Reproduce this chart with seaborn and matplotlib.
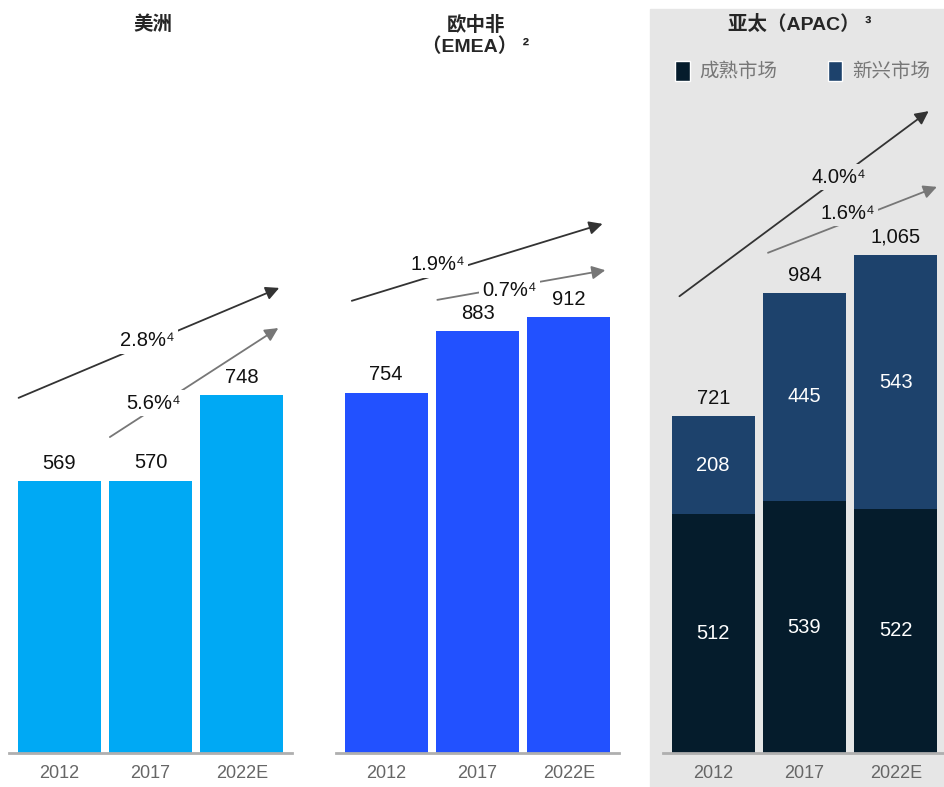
import matplotlib
matplotlib.use('Agg')
import matplotlib.pyplot as plt
import seaborn as sns
import pandas as pd
from matplotlib.patches import Patch, Rectangle

sns.set_style('white')
plt.rcParams['font.family'] = ['Liberation Sans', 'Noto Sans CJK SC', 'DejaVu Sans']

# data
years = ['2012', '2017', '2022E']
americas = [569, 570, 748]
emea = [754, 883, 912]
apac_mature = [512, 539, 522]
apac_emerging = [208, 445, 543]
apac_total = [721, 984, 1065]

americas_cagr = ['2.8%⁴', '5.6%⁴']
emea_cagr = ['1.9%⁴', '0.7%⁴']
apac_cagr = ['4.0%⁴', '1.6%⁴']

c_am = '#00A9F4'
c_emea = '#2251FF'
c_mature = '#051C2C'
c_emerg = '#1D426C'
bg_gray = '#E6E6E6'

W, H = 945, 787
fig = plt.figure(figsize=(W / 100, H / 100), dpi=100)

# gray panel behind APAC
fig.patches.append(Rectangle((650 / W, 0), 1 - 650 / W, 1 - 9 / H,
                             transform=fig.transFigure, color=bg_gray, zorder=-1))

VAL_FS = 14.5


def make_ax(left_px, width_px, scale):
    bottom = (H - 753) / H
    height = (753 - 60) / H
    ax = fig.add_axes([left_px / W, bottom, width_px / W, height])
    ax.set_facecolor('none')
    ax.set_zorder(1)
    return ax


def style_ax(ax, scale):
    ax.set_xlim(-0.55, 2.55)
    ax.set_ylim(0, 693 / scale)
    for s in ['top', 'right', 'left']:
        ax.spines[s].set_visible(False)
    ax.spines['bottom'].set_color('#AFAFAF')
    ax.spines['bottom'].set_linewidth(2)
    ax.set_yticks([])
    ax.tick_params(axis='x', length=0, labelsize=13, labelcolor='#666666', pad=9)
    ax.set_xlabel('')
    ax.set_ylabel('')


def arrow(ax, start, end, color, label, lpos, bg):
    ax.annotate('', xy=end, xytext=start,
                arrowprops=dict(arrowstyle='-|>', color=color, lw=1.3,
                                mutation_scale=20, shrinkA=0, shrinkB=0))
    ax.text(lpos[0], lpos[1], label, ha='center', va='center', fontsize=VAL_FS,
            color='#111111',
            bbox=dict(facecolor=bg, edgecolor='none', pad=2.5))


bar_kw = dict(width=0.912, saturation=1, linewidth=0, edgecolor='none')

# Americas
ax1 = make_ax(9, 283, 0.478)
sns.barplot(x=years, y=americas, color=c_am, ax=ax1, **bar_kw)
style_ax(ax1, 0.478)
ax1.bar_label(ax1.containers[0], padding=6, fontsize=VAL_FS, color='#111111')
arrow(ax1, (-0.445, 743), (2.41, 973), '#333333', americas_cagr[0], (0.96, 862), 'white')
arrow(ax1, (0.555, 661), (2.40, 889), '#777777', americas_cagr[1], (1.03, 732), 'white')

# EMEA
ax2 = make_ax(336, 283, 0.478)
sns.barplot(x=years, y=emea, color=c_emea, ax=ax2, **bar_kw)
style_ax(ax2, 0.478)
ax2.bar_label(ax2.containers[0], padding=6, fontsize=VAL_FS, color='#111111')
arrow(ax2, (-0.377, 946), (2.37, 1107), '#333333', emea_cagr[0], (0.56, 1021), 'white')
arrow(ax2, (0.56, 948), (2.40, 1010), '#777777', emea_cagr[1], (1.35, 967), 'white')

# APAC stacked
ax3 = make_ax(663, 283, 0.4675)
sns.barplot(x=years, y=apac_total, color=c_emerg, ax=ax3, **bar_kw)
sns.barplot(x=years, y=apac_mature, color=c_mature, ax=ax3, **bar_kw)
style_ax(ax3, 0.4675)
ax3.bar_label(ax3.containers[0], labels=[f'{v:,}' for v in apac_total],
              padding=6, fontsize=VAL_FS, color='#111111')
for i in range(len(years)):
    ax3.text(i, apac_mature[i] / 2, str(apac_mature[i]), ha='center', va='center',
             color='white', fontsize=VAL_FS)
    ax3.text(i, apac_mature[i] + apac_emerging[i] / 2, str(apac_emerging[i]),
             ha='center', va='center', color='white', fontsize=VAL_FS)
arrow(ax3, (-0.37, 977), (2.36, 1373), '#333333', apac_cagr[0], (1.38, 1232), bg_gray)
arrow(ax3, (0.60, 1070), (2.45, 1211), '#777777', apac_cagr[1], (1.47, 1155), bg_gray)

handles = [Patch(facecolor=c_mature, label='成熟市场'),
           Patch(facecolor=c_emerg, label='新兴市场')]
leg = fig.legend(handles=handles, ncol=2, frameon=False, loc='center left',
                 bbox_to_anchor=(675 / W, 1 - 71 / H), fontsize=14,
                 labelcolor='#777777', handlelength=0.75, handleheight=1.2,
                 handletextpad=0.5, columnspacing=2.6, borderaxespad=0,
                 borderpad=0)

# panel titles
TFS = 14
fig.text(153 / W, 1 - 25 / H, '美洲', ha='center', va='center', fontsize=TFS,
         fontweight='bold')
fig.text(476 / W, 1 - 25 / H, '欧中非', ha='center', va='center', fontsize=TFS,
         fontweight='bold')
fig.text(476 / W, 1 - 47 / H, '（EMEA） ²', ha='center', va='center', fontsize=TFS,
         fontweight='bold')
fig.text(800 / W, 1 - 25 / H, '亚太（APAC） ³', ha='center', va='center', fontsize=TFS,
         fontweight='bold')

fig.savefig('out.png', dpi=100)
